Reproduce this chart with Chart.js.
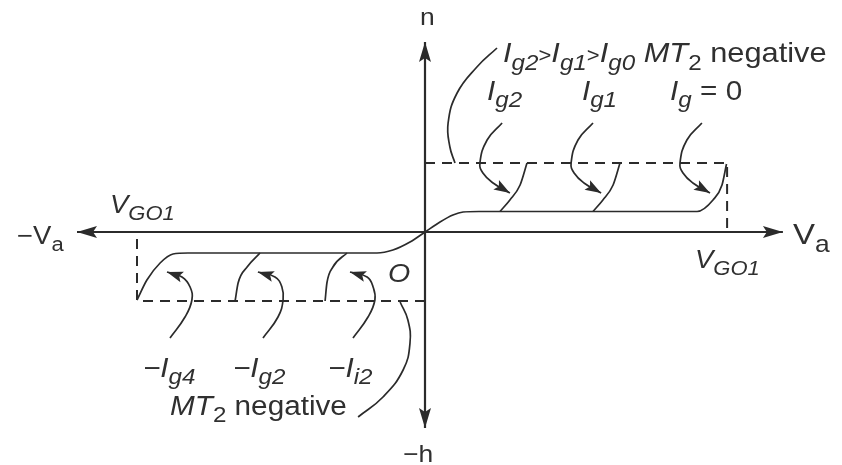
<!DOCTYPE html>
<html>
<head>
<meta charset="utf-8">
<script src="https://cdn.jsdelivr.net/npm/chart.js@4.4.0/dist/chart.umd.min.js"></script>
<style>
  html, body { margin: 0; padding: 0; background: #fff; }
  canvas { display: block; }
</style>
</head>
<body>
<canvas id="grafico" width="842" height="465"></canvas>
<script>
// axis ends (x: volts scale, VGO1 ~ 10; y: current scale, latching ~ 7)
var eixoH = [[-11.6, 0], [11.93, 0]];
var eixoV = [[0, 19.0], [0, -19.6]];

// dashed limits (break-over voltage / current)
var limiteSup = [[0, 6.9], [10.07, 6.9], [10.07, 0]];
var limiteInf = [[0, -6.9], [-9.6, -6.9], [-9.6, 0]];

// MT2 positive characteristic (Ig = 0)
var curvaSup = [[0, 0], [0.5, 1.0], [0.93, 1.7], [1.27, 2.0], [1.8, 2.05], [9.07, 2.05], [9.6, 3.2], [9.9, 4.7], [10.05, 6.8]];
var ramoIg2 = [[2.5, 2.05], [2.83, 3.2], [3.17, 4.7], [3.4, 6.9]];
var ramoIg1 = [[5.6, 2.05], [5.93, 3.2], [6.27, 4.7], [6.5, 6.9]];

// MT2 negative characteristic
var curvaInf = [[-9.6, -6.8], [-9.27, -4.8], [-8.83, -3.1], [-8.4, -2.2], [-7.9, -2.1], [-1.6, -2.1], [-1.07, -1.8], [-0.5, -1.0], [0, 0]];
var ramoIg2Neg = [[-6.33, -6.9], [-6.23, -5.1], [-5.93, -3.5], [-5.5, -2.1]];
var ramoI2Neg = [[-3.33, -6.9], [-3.27, -5.1], [-3.07, -3.5], [-2.6, -2.1]];

// pointer arrows towards each branch
var setaIg2 = [[2.57, 10.9], [2.07, 9.2], [1.83, 6.9], [1.93, 5.9], [2.27, 4.9], [2.83, 3.9]];
var setaIg1 = [[5.6, 10.9], [5.1, 9.2], [4.87, 6.9], [4.97, 5.9], [5.3, 4.9], [5.87, 3.9]];
var setaIg0 = [[9.23, 10.9], [8.73, 9.2], [8.5, 6.9], [8.6, 5.9], [8.93, 4.9], [9.5, 3.9]];
var setaIg4Neg = [[-8.5, -10.6], [-8.0, -8.5], [-7.77, -6.8], [-7.83, -5.5], [-8.1, -4.5], [-8.6, -4.0]];
var setaIg2Neg = [[-5.4, -10.6], [-4.9, -8.5], [-4.73, -6.8], [-4.77, -5.5], [-5.0, -4.5], [-5.57, -4.0]];
var setaI2Neg = [[-2.4, -10.6], [-1.9, -8.5], [-1.67, -6.8], [-1.73, -5.5], [-1.93, -4.5], [-2.5, -4.0]];

// leader lines for the two captions
var guiaSup = [[2.4, 18.4], [1.73, 16.5], [1.07, 13.9], [0.77, 10.9], [0.83, 8.5], [1.0, 6.9]];
var guiaInf = [[-2.23, -18.5], [-1.4, -16.5], [-0.73, -13.8], [-0.5, -11.1], [-0.57, -8.8], [-0.83, -7.0]];

// text: [x, y, tamanho, [[texto, estilo]...]]  estilo: n normal, i italico, si sub italico, sn sub normal, p pequeno
var rotulos = [
    [-0.17, 20.7, 24, [['n', 'n']]],
    [2.6, 17.0, 28, [['I', 'i'], ['g2', 'si'], ['>', 'p'], ['I', 'i'], ['g1', 'si'], ['>', 'p'], ['I', 'i'], ['g0', 'si'], [' MT', 'i'], ['2', 'sn'], [' negative', 'n']]],
    [2.07, 13.2, 27, [['I', 'i'], ['g2', 'si']]],
    [5.23, 13.2, 27, [['I', 'i'], ['g1', 'si']]],
    [8.17, 13.2, 27, [['I', 'i'], ['g', 'si'], [' = 0', 'n']]],
    [-13.6, -1.2, 25, [['\u2212V', 'n'], ['a', 'sn']]],
    [12.27, -1.2, 30, [['V', 'n'], ['a', 'sn']]],
    [-10.5, 1.9, 25, [['V', 'i'], ['GO1', 'si']]],
    [9.0, -3.6, 25, [['V', 'i'], ['GO1', 'si']]],
    [-1.23, -5.0, 26, [['O', 'i']]],
    [-9.4, -14.5, 27, [['\u2212I', 'i'], ['g4', 'si']]],
    [-6.4, -14.5, 27, [['\u2212I', 'i'], ['g2', 'si']]],
    [-3.23, -14.5, 27, [['\u2212I', 'i'], ['i2', 'si']]],
    [-8.5, -18.3, 27, [['MT', 'i'], ['2', 'sn'], [' negative', 'n']]],
    [-0.73, -23.0, 24, [['\u2212h', 'n']]]
];

var tinta = '#2b2b2b';

function pontos(lista) {
    return lista.map(function (p) { return { x: p[0], y: p[1] }; });
}

function linha(lista, extra) {
    var ds = {
        data: pontos(lista),
        showLine: true,
        pointRadius: 0,
        borderColor: tinta,
        borderWidth: 1.7,
        fill: false,
        tension: 0
    };
    return Object.assign(ds, extra || {});
}

var suave = { cubicInterpolationMode: 'monotone' };
var curva = { tension: 0.45 };

var datasets = [
    linha(eixoH, { borderWidth: 2.2, ponta: 'ambas', tamPonta: [20, 12] }),
    linha(eixoV, { borderWidth: 2.2, ponta: 'ambas', tamPonta: [20, 12] }),
    linha(limiteSup, { borderWidth: 2, borderDash: [10, 7] }),
    linha(limiteInf, { borderWidth: 2, borderDash: [10, 7] }),
    linha(curvaSup, suave),
    linha(ramoIg2, suave),
    linha(ramoIg1, suave),
    linha(curvaInf, suave),
    linha(ramoIg2Neg, suave),
    linha(ramoI2Neg, suave),
    linha(setaIg2, Object.assign({ ponta: 'fim', tamPonta: [16, 11] }, curva)),
    linha(setaIg1, Object.assign({ ponta: 'fim', tamPonta: [16, 11] }, curva)),
    linha(setaIg0, Object.assign({ ponta: 'fim', tamPonta: [16, 11] }, curva)),
    linha(setaIg4Neg, Object.assign({ ponta: 'fim', tamPonta: [16, 11] }, curva)),
    linha(setaIg2Neg, Object.assign({ ponta: 'fim', tamPonta: [16, 11] }, curva)),
    linha(setaI2Neg, Object.assign({ ponta: 'fim', tamPonta: [16, 11] }, curva)),
    linha(guiaSup, curva),
    linha(guiaInf, curva)
];

// filled arrow heads at the end of marked lines
var pluginSetas = {
    id: 'setas',
    afterDatasetsDraw: function (chart) {
        var ctx = chart.ctx;
        chart.data.datasets.forEach(function (ds, i) {
            if (!ds.ponta) return;
            var pts = chart.getDatasetMeta(i).data;
            var n = pts.length;
            var desenhar = function (tip, de) {
                var ang = Math.atan2(tip.y - de.y, tip.x - de.x);
                var L = ds.tamPonta[0], w = ds.tamPonta[1] / 2;
                ctx.save();
                ctx.translate(tip.x, tip.y);
                ctx.rotate(ang);
                ctx.beginPath();
                ctx.moveTo(0, 0);
                ctx.lineTo(-L, -w);
                ctx.lineTo(-L * 0.8, 0);
                ctx.lineTo(-L, w);
                ctx.closePath();
                ctx.fillStyle = tinta;
                ctx.fill();
                ctx.restore();
            };
            var ult = pts[n - 1];
            var ctrl = (ult.cp1x !== undefined && (ult.cp1x !== ult.x || ult.cp1y !== ult.y)) ? { x: ult.cp1x, y: ult.cp1y } : pts[n - 2];
            desenhar(ult, ctrl);
            if (ds.ponta === 'ambas') desenhar(pts[0], pts[1]);
        });
    }
};

// labels with italic letters and subscripts; glyphs a bit wider than the font
var largura = 1.1;

var pluginTextos = {
    id: 'textos',
    afterDraw: function (chart) {
        var ctx = chart.ctx;
        var sx = chart.scales.x, sy = chart.scales.y;
        ctx.save();
        ctx.fillStyle = '#303030';
        ctx.textBaseline = 'alphabetic';
        rotulos.forEach(function (r) {
            var base = r[2];
            var px = 0;
            ctx.save();
            ctx.translate(sx.getPixelForValue(r[0]), sy.getPixelForValue(r[1]));
            ctx.scale(largura, 1);
            r[3].forEach(function (parte) {
                var t = parte[0], e = parte[1];
                var sub = e.charAt(0) === 's';
                var ital = e.indexOf('i') >= 0;
                var tam = sub ? Math.round(base * 0.8) : (e === 'p' ? Math.round(base * 0.72) : base);
                ctx.font = (ital ? 'italic ' : '') + tam + 'px "Liberation Sans", Arial, sans-serif';
                ctx.fillText(t, px, sub ? Math.round(base * 0.27) : 0);
                px += ctx.measureText(t).width;
            });
            ctx.restore();
        });
        ctx.restore();
    }
};

new Chart(document.getElementById('grafico'), {
    type: 'scatter',
    data: { datasets: datasets },
    options: {
        responsive: false,
        animation: false,
        layout: { padding: 0 },
        plugins: {
            legend: { display: false },
            tooltip: { enabled: false }
        },
        scales: {
            x: { type: 'linear', display: false, min: -425 / 30, max: 417 / 30 },
            y: { type: 'linear', display: false, min: -23.3, max: 23.2 }
        }
    },
    plugins: [pluginSetas, pluginTextos]
});
</script>
</body>
</html>
